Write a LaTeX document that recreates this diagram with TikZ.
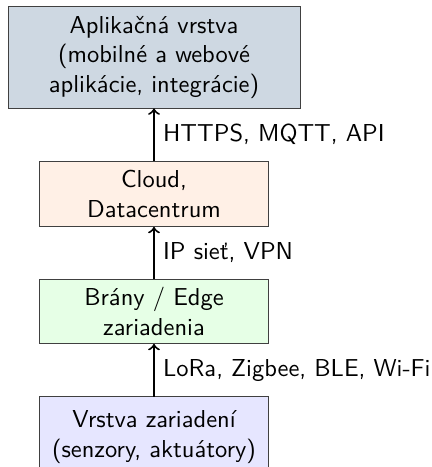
\documentclass[tikz,border=0pt]{standalone}
\usepackage{fontspec}
\begin{document}
\begin{tikzpicture}[x=0.4082pt,y=-0.4082pt,
  font=\sffamily,
  layer/.style={draw=black!75, line width=0.4pt, align=center, inner sep=0pt, outer sep=0pt},
  conn/.style={->, line width=0.8pt},
  lbl/.style={right, inner sep=3.33pt}]
\useasboundingbox (0,0) rectangle (432,467);
\definecolor{appc}{RGB}{206,216,226}
\definecolor{cloudc}{RGB}{255,240,230}
\definecolor{edgec}{RGB}{230,255,230}
\definecolor{devc}{RGB}{230,230,255}
\node[layer, fill=appc, minimum width=119.2pt, minimum height=41.6pt] (app) at (154,57.5)
  {Aplikačná vrstva\\(mobilné a webové\\aplikácie, integrácie)};
\node[layer, fill=cloudc, minimum width=93.1pt, minimum height=26.9pt] (cloud) at (154,194)
  {Cloud,\\Datacentrum};
\node[layer, fill=edgec, minimum width=93.1pt, minimum height=26.5pt] (edge) at (154,311.5)
  {Brány / Edge\\zariadenia};
\node[layer, fill=devc, minimum width=93.1pt, minimum height=32.7pt] (dev) at (154,437)
  {Vrstva zariadení\\(senzory, aktuátory)};
\draw[conn] (cloud) -- node[lbl] {HTTPS, MQTT, API} (app);
\draw[conn] (edge) -- node[lbl] {IP sieť, VPN} (cloud);
\draw[conn] (dev) -- node[lbl] {LoRa, Zigbee, BLE, Wi-Fi} (edge);
\end{tikzpicture}
\end{document}
